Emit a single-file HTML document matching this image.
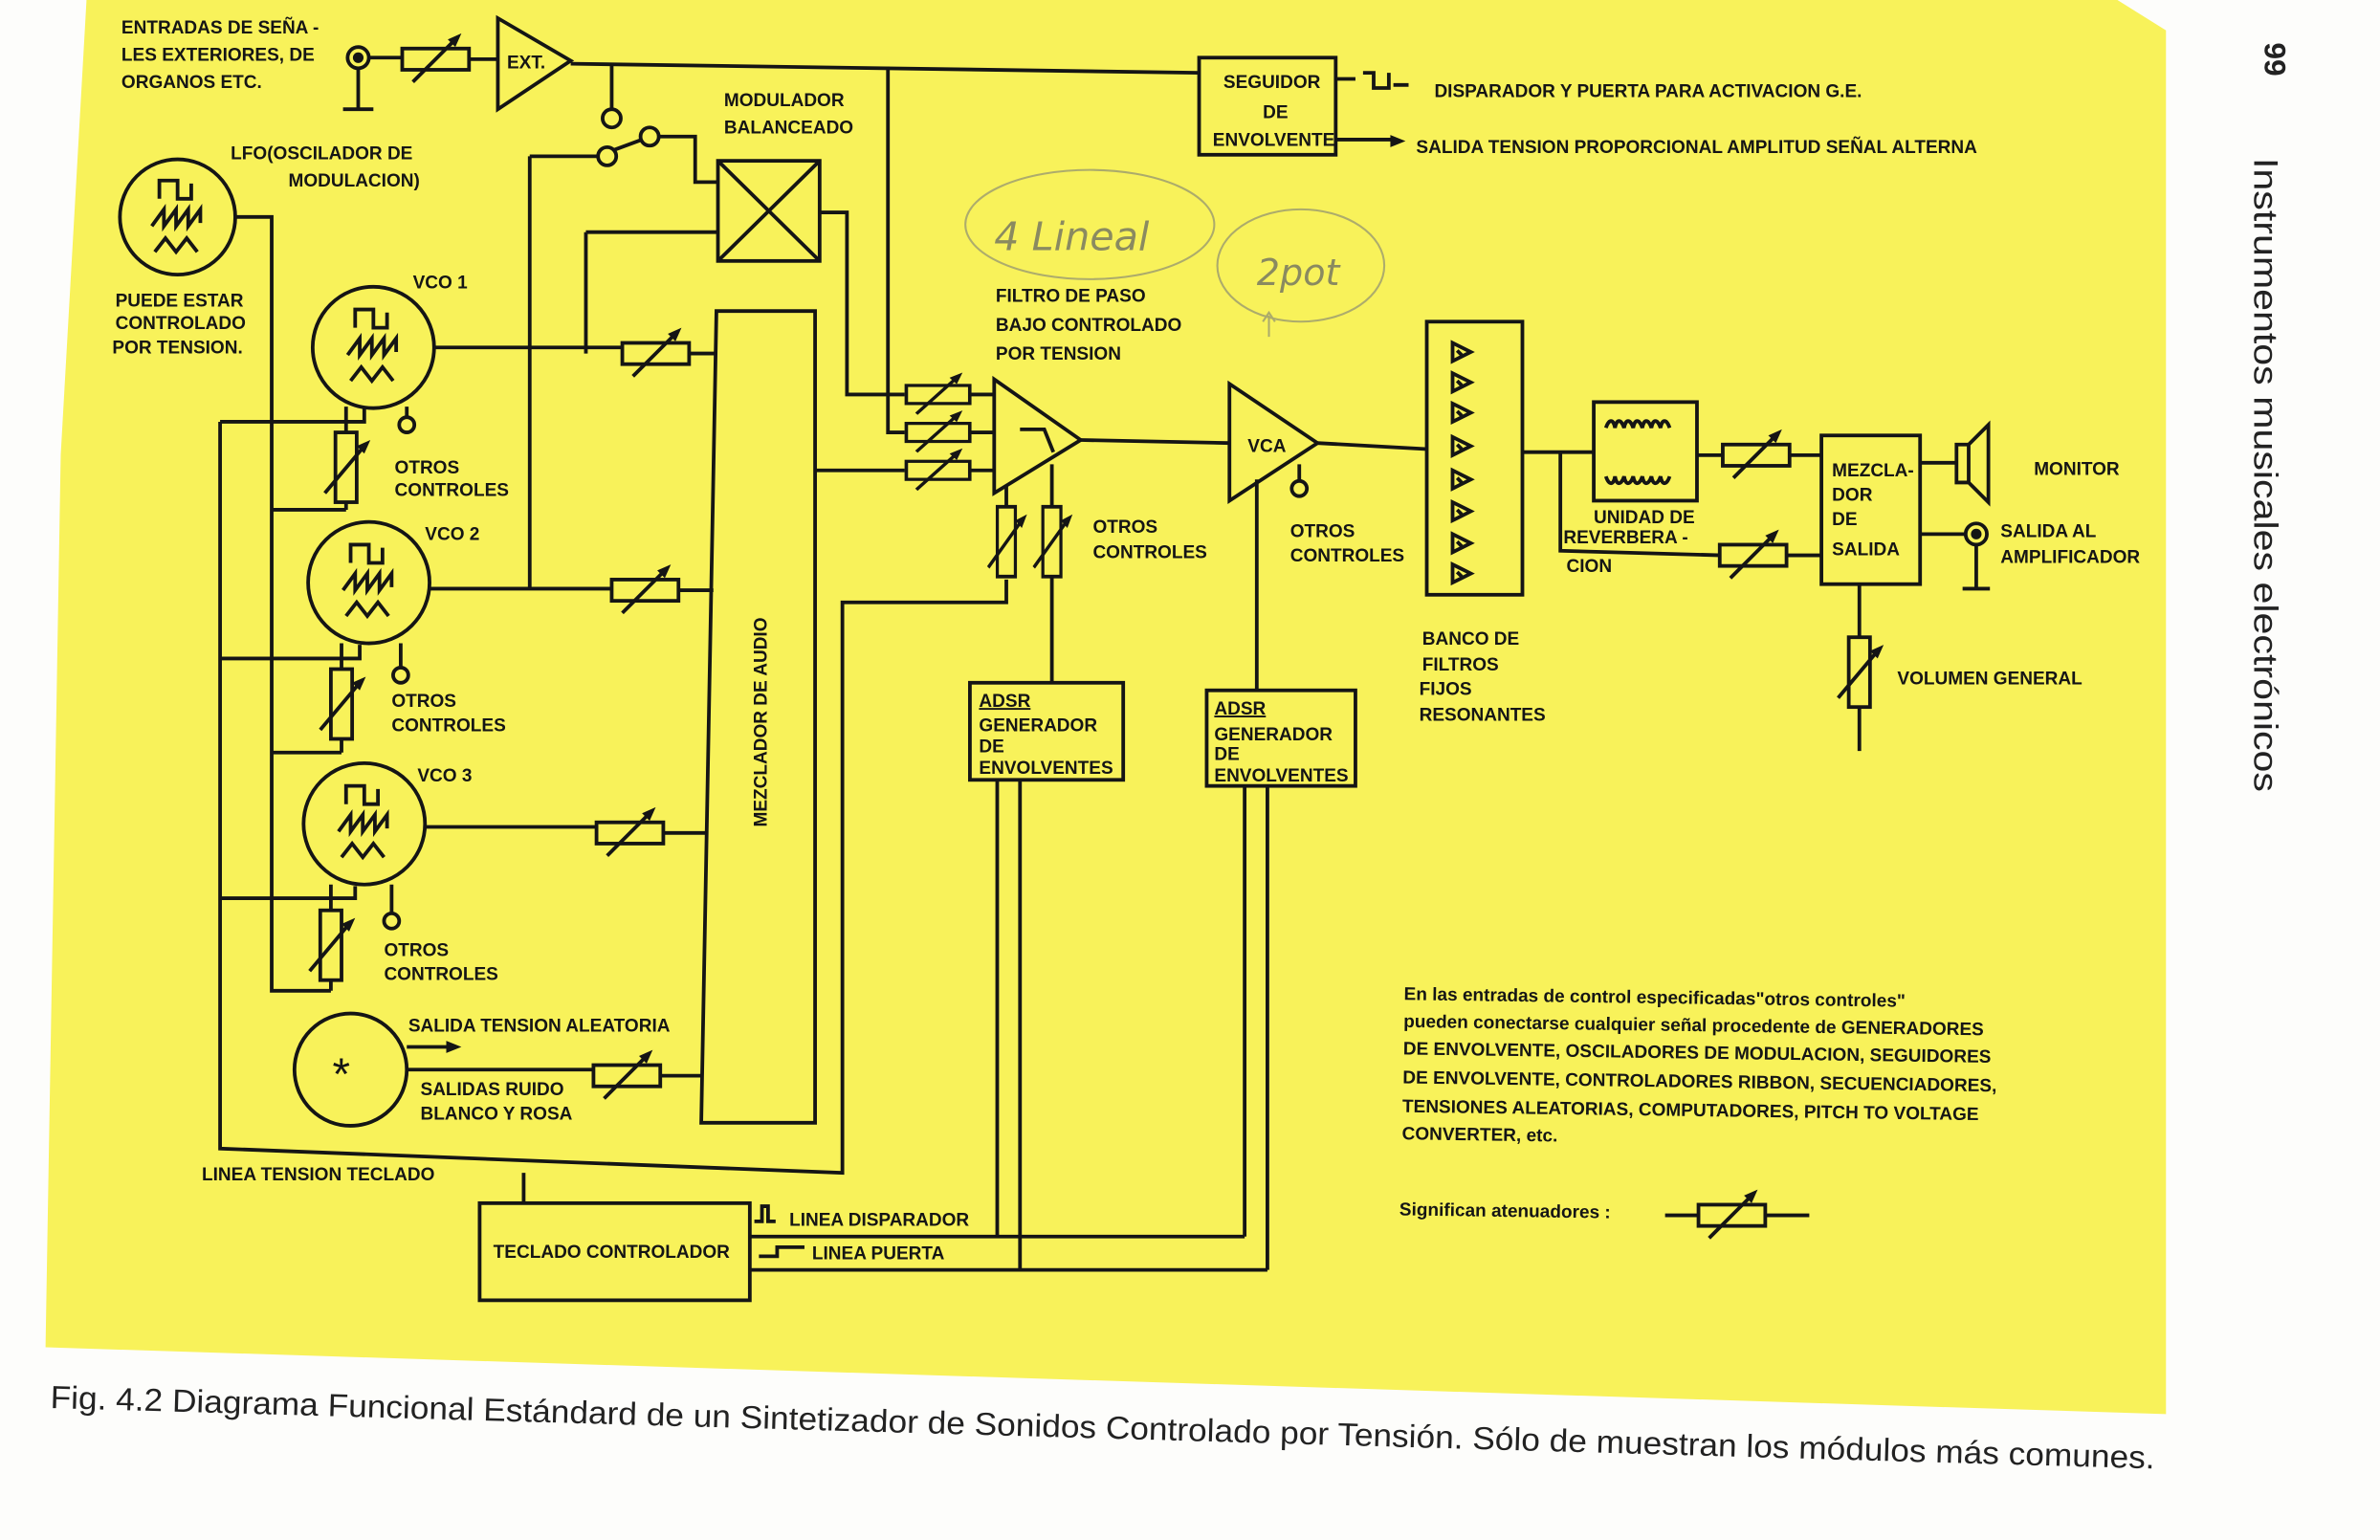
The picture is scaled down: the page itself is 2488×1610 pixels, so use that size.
<!DOCTYPE html>
<html><head><meta charset="utf-8"><style>
html,body{margin:0;padding:0;background:#fff}
svg{display:block}
text{font-family:"Liberation Sans",sans-serif;font-weight:bold;fill:#151515}
.l{stroke:#151515;stroke-width:2.4;fill:none}
.t{font-size:12px}
</style></head><body>
<svg width="2488" height="1610" viewBox="0 0 1568 1015" preserveAspectRatio="none" xmlns="http://www.w3.org/2000/svg">
<defs>
<g id="att"><rect x="-22" y="-7" width="44" height="14" class="l"/><line x1="-15" y1="15" x2="13" y2="-13" class="l"/><polygon points="17,-17 8,-13 13,-8" fill="#151515"/></g>
<g id="vatt"><rect x="-7" y="-23" width="14" height="46" class="l"/><line x1="-14" y1="17" x2="12" y2="-14" class="l"/><polygon points="16,-18 7,-14 12,-9" fill="#151515"/></g>
<g id="osc"><path d="M-12,-14 V-26 H0 V-14 H9 V-24" class="l" stroke-width="2"/><path d="M-17,4 l8,-11 v11 l8,-11 v11 l8,-11 v11 l8,-11 v9" class="l" stroke-width="2"/><path d="M-15,21 l7,-9 l7,9 l7,-9 l7,9" class="l" stroke-width="2"/></g>
<g id="ftri"><path d="M-5,-6 v12 l12,-6 z" class="l" stroke-width="1.8"/><path d="M-2,-1 l3,3" class="l" stroke-width="1.2"/></g>
</defs>
<rect width="1568" height="1015" fill="#fdfdfb"/>
<polygon points="57,0 1395,0 1427,20 1427,932 30,888 40,300" fill="#f8f25a"/>

<!-- top input -->
<text class="t" x="80" y="22">ENTRADAS DE SEÑA -</text>
<text class="t" x="80" y="40">LES EXTERIORES, DE</text>
<text class="t" x="80" y="58">ORGANOS  ETC.</text>
<circle cx="236" cy="38" r="7" class="l"/><circle cx="236" cy="38" r="3.5" fill="#151515"/>
<path d="M236,45 V72 M226,72 H246 M243,38 H265 M309,39 H328" class="l"/>
<use href="#att" transform="translate(287,39)"/>
<path d="M328,12 L328,72 L376,40 Z" class="l"/>
<text class="t" x="334" y="45">EXT.</text>
<path d="M376,42 L790,48" class="l"/>
<path d="M403,43 V72" class="l"/><circle cx="403" cy="78" r="6" class="l"/>
<circle cx="428" cy="90" r="6" class="l"/><circle cx="400" cy="103" r="6" class="l"/>
<path d="M404,99 L423,92 M349,103 H394 M434,90 H458 V120 H473 M349,103 V388" class="l"/>

<!-- modulator -->
<text class="t" x="477" y="70">MODULADOR</text>
<text class="t" x="477" y="88">BALANCEADO</text>
<rect x="473" y="106" width="67" height="66" class="l"/>
<path d="M473,106 L540,172 M540,106 L473,172" class="l"/>
<path d="M386,153 H473 M386,153 V233 M540,140 H558 V260 H596 M585,44 V285 H596 M537,310 H596" class="l"/>

<!-- seguidor -->
<rect x="790" y="38" width="90" height="64" class="l"/>
<text class="t" x="806" y="58">SEGUIDOR</text>
<text class="t" x="832" y="78">DE</text>
<text class="t" x="799" y="96">ENVOLVENTE</text>
<path d="M880,52 H893 M898,48 H905 V58 H915 V48 M918,56 H928 M880,92 H918" class="l" stroke-width="2"/>
<polygon points="926,93 916,89 916,97" fill="#151515"/>
<text class="t" x="945" y="64">DISPARADOR Y PUERTA PARA ACTIVACION G.E.</text>
<text class="t" x="933" y="101">SALIDA TENSION PROPORCIONAL AMPLITUD SEÑAL ALTERNA</text>

<!-- LFO -->
<text class="t" x="152" y="105">LFO(OSCILADOR DE</text>
<text class="t" x="190" y="123">MODULACION)</text>
<circle cx="117" cy="143" r="38" class="l"/>
<use href="#osc" transform="translate(117,145)"/>
<text class="t" x="76" y="202">PUEDE ESTAR</text>
<text class="t" x="76" y="217">CONTROLADO</text>
<text class="t" x="74" y="233">POR TENSION.</text>
<path d="M155,143 H179 V653 H218 M179,336 H228 M179,496 H225" class="l"/>
<!-- keyboard bus -->
<path d="M145,278 H240 V268 M145,278 V757 L555,773 V397 H663 V382 M145,434 H237 V425 M145,592 H234 V584" class="l"/>

<!-- VCO1 -->
<text class="t" x="272" y="190">VCO 1</text>
<circle cx="246" cy="229" r="40" class="l"/>
<use href="#osc" transform="translate(246,230)"/>
<use href="#vatt" transform="translate(228,308)"/>
<path d="M228,285 V268 M228,331 V336 M268,274 V268" class="l"/>
<circle cx="268" cy="280" r="5" class="l"/>
<text class="t" x="260" y="312">OTROS</text><text class="t" x="260" y="327">CONTROLES</text>
<path d="M286,229 H410 M454,233 H472" class="l"/>
<use href="#att" transform="translate(432,233)"/>
<!-- VCO2 -->
<text class="t" x="280" y="356">VCO 2</text>
<circle cx="243" cy="384" r="40" class="l"/>
<use href="#osc" transform="translate(243,385)"/>
<use href="#vatt" transform="translate(225,464)"/>
<path d="M225,441 V424 M225,487 V496 M264,439 V424" class="l"/>
<circle cx="264" cy="445" r="5" class="l"/>
<text class="t" x="258" y="466">OTROS</text><text class="t" x="258" y="482">CONTROLES</text>
<path d="M283,388 H403 M447,389 H470" class="l"/>
<use href="#att" transform="translate(425,389)"/>
<!-- VCO3 -->
<text class="t" x="275" y="515">VCO 3</text>
<circle cx="240" cy="543" r="40" class="l"/>
<use href="#osc" transform="translate(240,544)"/>
<use href="#vatt" transform="translate(218,623)"/>
<path d="M218,600 V583 M218,646 V653 M258,601 V583" class="l"/>
<circle cx="258" cy="607" r="5" class="l"/>
<text class="t" x="253" y="630">OTROS</text><text class="t" x="253" y="646">CONTROLES</text>
<path d="M280,545 H393 M437,549 H465" class="l"/>
<use href="#att" transform="translate(415,549)"/>
<!-- noise -->
<circle cx="231" cy="705" r="37" class="l"/>
<text x="219" y="718" style="font-size:30px;font-weight:normal">*</text>
<path d="M268,690 H296" class="l"/><polygon points="304,690 294,686 294,694" fill="#151515"/>
<text class="t" x="269" y="680">SALIDA TENSION ALEATORIA</text>
<path d="M268,705 H391 M435,709 H462" class="l"/>
<use href="#att" transform="translate(413,709)"/>
<text class="t" x="277" y="722">SALIDAS RUIDO</text><text class="t" x="277" y="738">BLANCO Y ROSA</text>
<text class="t" x="133" y="778">LINEA TENSION TECLADO</text>

<!-- mixer -->
<path d="M472,205 H537 V740 H462 Z" class="l"/>
<text class="t" transform="translate(505,545) rotate(-90)">MEZCLADOR DE AUDIO</text>

<!-- keyboard controller -->
<rect x="316" y="793" width="178" height="64" class="l"/>
<text class="t" x="325" y="829">TECLADO CONTROLADOR</text>
<path d="M345,773 V793" class="l"/>
<path d="M497,805 h5 v-10 h4 v10 h5" class="l" stroke-width="1.8"/>
<text class="t" x="520" y="808">LINEA DISPARADOR</text>
<path d="M500,828 h12 v-6 h18" class="l" stroke-width="1.8"/>
<text class="t" x="535" y="830">LINEA PUERTA</text>
<path d="M494,815 H820 M494,837 H835" class="l"/>

<!-- filter -->
<text class="t" x="656" y="199">FILTRO DE PASO</text>
<text class="t" x="656" y="218">BAJO CONTROLADO</text>
<text class="t" x="656" y="237">POR TENSION</text>
<use href="#att" transform="translate(618,260) scale(0.95,0.85)"/>
<use href="#att" transform="translate(618,285) scale(0.95,0.85)"/>
<use href="#att" transform="translate(618,310) scale(0.95,0.85)"/>
<path d="M639,260 H655 M639,285 H655 M639,310 H655" class="l"/>
<path d="M655,250 L655,325 L712,290 Z" class="l"/>
<path d="M672,283 H688 L694,298" class="l" stroke-width="2"/>
<use href="#vatt" transform="translate(663,357) scale(0.85,1)"/>
<use href="#vatt" transform="translate(693,357) scale(0.85,1)"/>
<path d="M663,334 V320 M693,334 V306 M693,380 V450" class="l"/>
<text class="t" x="720" y="351">OTROS</text><text class="t" x="720" y="368">CONTROLES</text>
<path d="M712,290 L810,292" class="l"/>

<!-- ADSR -->
<rect x="639" y="450" width="101" height="64" class="l"/>
<text class="t" x="645" y="466" text-decoration="underline">ADSR</text>
<text class="t" x="645" y="482">GENERADOR</text>
<text class="t" x="645" y="496">DE</text>
<text class="t" x="645" y="510">ENVOLVENTES</text>
<path d="M657,514 V815 M672,514 V837" class="l"/>
<rect x="795" y="455" width="98" height="63" class="l"/>
<text class="t" x="800" y="471" text-decoration="underline">ADSR</text>
<text class="t" x="800" y="488">GENERADOR</text>
<text class="t" x="800" y="501">DE</text>
<text class="t" x="800" y="515">ENVOLVENTES</text>
<path d="M820,518 V815 M835,518 V837 M828,455 V316" class="l"/>

<!-- VCA -->
<path d="M810,253 L810,330 L868,292 Z" class="l"/>
<text class="t" x="822" y="298">VCA</text>
<path d="M856,306 V317" class="l"/><circle cx="856" cy="322" r="5" class="l"/>
<text class="t" x="850" y="354">OTROS</text><text class="t" x="850" y="370">CONTROLES</text>
<path d="M868,292 L940,296" class="l"/>

<!-- filter bank -->
<rect x="940" y="212" width="63" height="180" class="l"/>
<use href="#ftri" transform="translate(962,232)"/><use href="#ftri" transform="translate(962,252)"/>
<use href="#ftri" transform="translate(962,272)"/><use href="#ftri" transform="translate(962,294)"/>
<use href="#ftri" transform="translate(962,316)"/><use href="#ftri" transform="translate(962,337)"/>
<use href="#ftri" transform="translate(962,358)"/><use href="#ftri" transform="translate(962,378)"/>
<text class="t" x="937" y="425">BANCO DE</text>
<text class="t" x="937" y="442">FILTROS</text>
<text class="t" x="935" y="458">FIJOS</text>
<text class="t" x="935" y="475">RESONANTES</text>

<!-- reverb -->
<path d="M1003,298 H1050 M1028,298 V363 L1134,366 M1118,300 H1136 M1178,300 H1200 M1176,366 H1200" class="l"/>
<rect x="1050" y="265" width="68" height="65" class="l"/>
<path d="M1058,282 c2,-6 5,-6 6,0 c1,-6 4,-6 6,0 c1,-6 4,-6 6,0 c1,-6 4,-6 6,0 c1,-6 4,-6 6,0 c1,-6 4,-6 6,0 c1,-6 4,-6 6,0" class="l" stroke-width="1.6"/>
<path d="M1058,314 c2,6 5,6 6,0 c1,6 4,6 6,0 c1,6 4,6 6,0 c1,6 4,6 6,0 c1,6 4,6 6,0 c1,6 4,6 6,0 c1,6 4,6 6,0" class="l" stroke-width="1.6"/>
<text class="t" x="1050" y="345">UNIDAD DE</text>
<text class="t" x="1030" y="358">REVERBERA -</text>
<text class="t" x="1032" y="377">CION</text>
<use href="#att" transform="translate(1157,300)"/>
<use href="#att" transform="translate(1155,366)"/>

<!-- output mixer -->
<rect x="1200" y="287" width="65" height="98" class="l"/>
<text class="t" x="1207" y="314">MEZCLA-</text>
<text class="t" x="1207" y="330">DOR</text>
<text class="t" x="1207" y="346">DE</text>
<text class="t" x="1207" y="366">SALIDA</text>
<path d="M1265,305 H1289 M1265,352 H1295" class="l"/>
<path d="M1289,293 H1297 V318 H1289 Z M1297,293 L1310,280 V331 L1297,318" class="l"/>
<text class="t" x="1340" y="313">MONITOR</text>
<circle cx="1302" cy="352" r="7" class="l"/><circle cx="1302" cy="352" r="3.5" fill="#151515"/>
<path d="M1302,359 V388 M1293,388 H1311" class="l"/>
<text class="t" x="1318" y="354">SALIDA AL</text>
<text class="t" x="1318" y="371">AMPLIFICADOR</text>
<path d="M1225,385 V420 M1225,466 V495" class="l"/>
<use href="#vatt" transform="translate(1225,443)"/>
<text class="t" x="1250" y="451">VOLUMEN GENERAL</text>

<!-- notes -->
<g transform="rotate(0.8 925 650)">
<text class="t" x="925" y="659">En las entradas de control especificadas"otros controles"</text>
<text class="t" x="925" y="677">pueden conectarse cualquier señal procedente de GENERADORES</text>
<text class="t" x="925" y="695">DE ENVOLVENTE, OSCILADORES DE MODULACION, SEGUIDORES</text>
<text class="t" x="925" y="714">DE ENVOLVENTE, CONTROLADORES RIBBON, SECUENCIADORES,</text>
<text class="t" x="925" y="733">TENSIONES ALEATORIAS, COMPUTADORES, PITCH TO VOLTAGE</text>
<text class="t" x="925" y="751">CONVERTER, etc.</text>
<text class="t" x="924" y="801">Significan atenuadores :</text>
</g>
<path d="M1097,801 H1120 M1162,801 H1192" class="l"/>
<use href="#att" transform="translate(1141,801)"/>

<!-- pencil notes -->
<g stroke="#9a9a70" stroke-width="1.3" fill="none" opacity="0.8">
<ellipse cx="718" cy="148" rx="82" ry="36"/>
<ellipse cx="857" cy="175" rx="55" ry="37"/>
<path d="M836,222 V208 M832,212 L836,206 L840,212"/>
</g>
<text x="655" y="165" style="font-family:'DejaVu Sans',sans-serif;font-weight:normal;font-size:26px;fill:#8a8a60;font-style:italic">4 Lineal</text>
<text x="828" y="188" style="font-family:'DejaVu Sans',sans-serif;font-weight:normal;font-size:24px;fill:#8a8a60;font-style:italic">2pot</text>

<!-- caption -->
<text transform="rotate(1.65 33 928)" x="33" y="928" textLength="1387" lengthAdjust="spacingAndGlyphs" style="font-weight:normal;font-size:21px;fill:#222">Fig. 4.2   Diagrama Funcional Estándard de un Sintetizador de Sonidos Controlado por Tensión. Sólo de muestran los módulos más comunes.</text>

<!-- page side text -->
<text transform="translate(1492,28) rotate(90)" style="font-size:20px;fill:#222">99</text>
<text transform="translate(1485,104) rotate(90)" textLength="418" lengthAdjust="spacingAndGlyphs" style="font-weight:normal;font-size:22px;fill:#222">Instrumentos musicales electrónicos</text>
</svg>
</body></html>
